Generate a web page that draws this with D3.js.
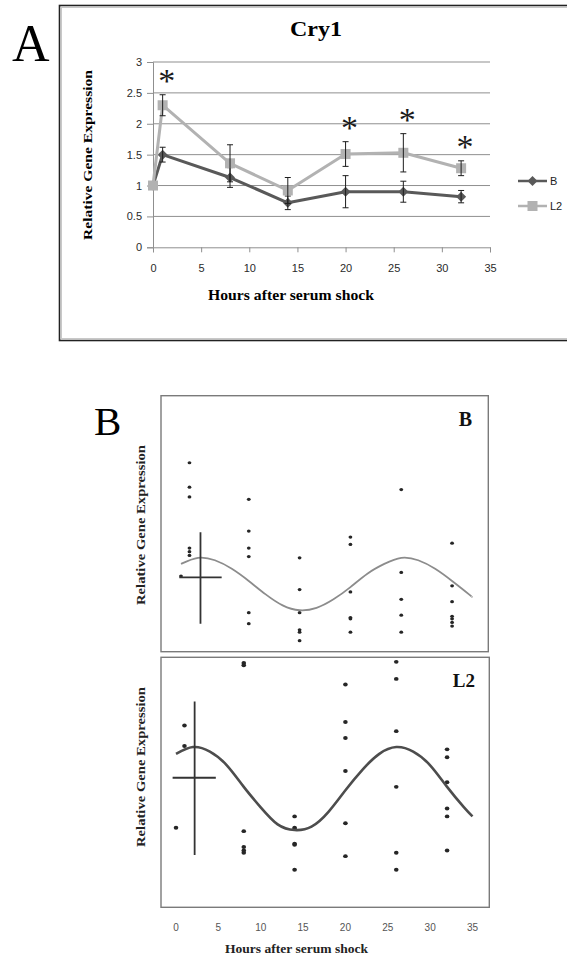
<!DOCTYPE html>
<html>
<head>
<meta charset="utf-8">
<script src="https://cdn.jsdelivr.net/npm/d3@7"></script>
<style>
  body { margin: 0; background: #fff; }
  svg { display: block; }
</style>
</head>
<body>
<svg id="fig" width="567" height="956"></svg>
<script>
// ---------- Panel A: mean Cry1 expression (± SE) after serum shock ----------
const hoursA = [0, 1, 8, 14, 20, 26, 32];
const meanB  = [1.00, 1.50, 1.13, 0.72, 0.90, 0.90, 0.82];
const errB   = [0.00, 0.12, 0.16, 0.11, 0.26, 0.17, 0.10];
const meanL2 = [1.00, 2.30, 1.36, 0.92, 1.51, 1.53, 1.28];
const errL2  = [0.00, 0.17, 0.30, 0.21, 0.20, 0.31, 0.12];
const starHours = [1, 20, 26, 32];          // significant B vs L2 differences
const yTicksA = [0, 0.5, 1, 1.5, 2, 2.5, 3];
const xTicks  = [0, 5, 10, 15, 20, 25, 30, 35];
const seriesNames = ["B", "L2"];

// ---------- Panel B: individual replicates with cosinor fits ----------
const sampleHours = [0, 1, 8, 14, 20, 26, 32];
const replicatesB = [
  [1.02],
  [1.95, 1.75, 1.67, 1.25, 1.22, 1.19],
  [1.65, 1.39, 1.25, 1.18, 0.72, 0.63],
  [1.17, 0.91, 0.72, 0.58, 0.56, 0.49],
  [1.34, 1.28, 0.89, 0.68, 0.67, 0.56],
  [1.73, 1.05, 0.83, 0.70, 0.56],
  [1.29, 0.94, 0.81, 0.69, 0.67, 0.64, 0.61]
];
const replicatesL2 = [
  [1.00],
  [2.51, 1.90, 1.72],
  [2.45, 2.43, 0.97, 0.83, 0.80, 0.78],
  [1.10, 1.00, 0.99, 0.86, 0.85, 0.63],
  [2.26, 1.93, 1.79, 1.50, 1.04, 0.75],
  [2.46, 2.31, 1.85, 1.36, 0.78, 0.63],
  [1.69, 1.62, 1.40, 1.17, 1.10, 0.80]
];
// fitted 24 h cosine curves, read at 2 h steps
const fitHoursB  = [0, 2, 4, 6, 8, 10, 12, 14, 16, 18, 20, 22, 24, 26, 28, 30, 32, 34, 34.3];
const fitB       = [1.12, 1.17, 1.15, 1.08, 0.98, 0.87, 0.78, 0.74, 0.76, 0.83, 0.93, 1.04, 1.12, 1.17, 1.15, 1.08, 0.98, 0.87, 0.85];
const fitHoursL2 = [0, 2, 4, 6, 8, 10, 12, 14, 16, 18, 20, 22, 24, 26, 28, 30, 32, 34, 35];
const fitL2      = [1.65, 1.71, 1.67, 1.55, 1.36, 1.18, 1.03, 0.98, 1.01, 1.14, 1.33, 1.51, 1.65, 1.71, 1.67, 1.55, 1.36, 1.18, 1.10];
// mesor crosses: [hour, hour low, hour high, level, level low, level high]
const crossB  = [2.3, -0.2, 4.8, 1.01, 0.63, 1.38];
const crossL2 = [2.2, -0.4, 4.7, 1.44, 0.76, 2.11];

const SERIF = "'Liberation Serif', 'Times New Roman', serif";
const SANS  = "'Liberation Sans', Arial, sans-serif";
const svg = d3.select("#fig");

// ================= Panel A =================
const gA = svg.append("g");
// frame (double rule)
gA.append("rect").attr("x", 59.5).attr("y", 5.5).attr("width", 520).attr("height", 335)
  .attr("fill", "none").attr("stroke", "#222").attr("stroke-width", 1.6);
gA.append("rect").attr("x", 61.5).attr("y", 7.5).attr("width", 520).attr("height", 331)
  .attr("fill", "none").attr("stroke", "#c8c8c8").attr("stroke-width", 1);

gA.append("text").attr("x", 12).attr("y", 61).attr("font-family", SERIF)
  .attr("font-size", 52).attr("fill", "#000").text("A");

const xA = d3.scaleLinear([0, 35], [153, 490]);
const yA = d3.scaleLinear([0, 3], [247.3, 62]);

gA.append("text").attr("x", 316).attr("y", 36).attr("text-anchor", "middle")
  .attr("font-family", SERIF).attr("font-weight", "bold").attr("font-size", 21)
  .attr("textLength", 52).attr("lengthAdjust", "spacingAndGlyphs").text("Cry1");

// gridlines
gA.append("g").selectAll("line").data(yTicksA.filter(d => d > 0)).join("line")
  .attr("x1", xA(0)).attr("x2", xA(35)).attr("y1", d => yA(d)).attr("y2", d => yA(d))
  .attr("stroke", "#8f8f8f").attr("stroke-width", 1);

const axA_y = gA.append("g").attr("transform", `translate(${xA(0)},0)`)
  .call(d3.axisLeft(yA).tickValues(yTicksA).tickSize(6).tickPadding(5).tickFormat(d3.format("")));
const axA_x = gA.append("g").attr("transform", `translate(0,${yA(0)})`)
  .call(d3.axisBottom(xA).tickValues(xTicks).tickSize(5).tickPadding(12));
[axA_y, axA_x].forEach(ax => {
  ax.select(".domain").attr("stroke", "#8f8f8f");
  ax.selectAll(".tick line").attr("stroke", "#8f8f8f");
  ax.selectAll(".tick text").attr("font-family", SANS).attr("font-size", 11).attr("fill", "#2a2a2a");
});

gA.append("text").attr("transform", `translate(92,155) rotate(-90)`).attr("text-anchor", "middle")
  .attr("font-family", SERIF).attr("font-weight", "bold").attr("font-size", 13.5)
  .attr("textLength", 170).attr("lengthAdjust", "spacingAndGlyphs").text("Relative Gene Expression");
gA.append("text").attr("x", 291).attr("y", 300).attr("text-anchor", "middle")
  .attr("font-family", SERIF).attr("font-weight", "bold").attr("font-size", 15.5)
  .attr("textLength", 166).attr("lengthAdjust", "spacingAndGlyphs")
  .text("Hours after serum shock");

const lineA = d3.line().x(d => xA(d[0])).y(d => yA(d[1]));
const seriesA = [
  { name: seriesNames[0], mean: meanB,  err: errB,  color: "#595959", marker: "diamond" },
  { name: seriesNames[1], mean: meanL2, err: errL2, color: "#b2b2b2", marker: "square" }
];
function marker(g, type, cx, cy, color) {
  if (type === "square") {
    g.append("rect").attr("x", cx - 5).attr("y", cy - 5).attr("width", 10).attr("height", 10).attr("fill", color);
  } else {
    g.append("path").attr("d", `M${cx},${cy - 5}L${cx + 5},${cy}L${cx},${cy + 5}L${cx - 5},${cy}Z`).attr("fill", color);
  }
}
seriesA.forEach(s => {
  const pts = hoursA.map((h, i) => [h, s.mean[i], s.err[i]]);
  const g = gA.append("g");
  g.append("path").datum(pts).attr("d", lineA).attr("fill", "none")
    .attr("stroke", s.color).attr("stroke-width", 3).attr("stroke-linejoin", "round");
  pts.forEach(p => marker(g, s.marker, xA(p[0]), yA(p[1]), s.color));
  pts.filter(p => p[2] > 0).forEach(p => {
    const x = xA(p[0]), y1 = yA(p[1] + p[2]), y2 = yA(p[1] - p[2]);
    g.append("path").attr("d", `M${x},${y1}V${y2}M${x - 3},${y1}H${x + 3}M${x - 3},${y2}H${x + 3}`)
      .attr("stroke", "#1e1e1e").attr("stroke-width", 1).attr("fill", "none");
  });
});

// significance stars above the L2 error bars
starHours.forEach(h => {
  const i = hoursA.indexOf(h);
  const top = yA(meanL2[i] + errL2[i]);
  gA.append("text").attr("x", xA(h) + 4).attr("y", top - 19 + 16).attr("text-anchor", "middle")
    .attr("font-family", SERIF).attr("font-size", 34).attr("fill", "#1a1a1a").text("*");
});

// legend
seriesA.forEach((s, i) => {
  const y = 181 + i * 25;
  gA.append("line").attr("x1", 518).attr("x2", 547).attr("y1", y).attr("y2", y)
    .attr("stroke", s.color).attr("stroke-width", 2.5);
  marker(gA, s.marker, 532.5, y, s.color);
  gA.append("text").attr("x", 550).attr("y", y + 4).attr("font-family", SANS)
    .attr("font-size", 11).attr("fill", "#222").text(s.name);
});

// ================= Panel B =================
const gB = svg.append("g");
gB.append("text").attr("x", 94).attr("y", 435).attr("font-family", SERIF)
  .attr("font-size", 41).attr("fill", "#000").text("B");

const panelsB = [
  { label: "B",  reps: replicatesB,  fitH: fitHoursB,  fit: fitB,  cross: crossB,
    x: d3.scaleLinear([0, 35], [181, 477.5]), y: d3.scaleLinear([0.4, 2.5], [651.7, 395.7]),
    box: [161, 395.7, 488.3, 651.7], r: 1.9, curveColor: "#8c8c8c", curveWidth: 1.8,
    labelY: 425.5, labelX: 472, labelSize: 20, titleY: 525 },
  { label: "L2", reps: replicatesL2, fitH: fitHoursL2, fit: fitL2, cross: crossL2,
    x: d3.scaleLinear([0, 35], [176, 472.5]), y: d3.scaleLinear([0.3, 2.5], [907.3, 657.3]),
    box: [161, 657.3, 489.3, 907.3], r: 2.3, curveColor: "#4d4d4d", curveWidth: 2.6,
    labelY: 687, labelX: 475, labelSize: 19, titleY: 767 }
];

panelsB.forEach((p, k) => {
  const [bx0, by0, bx1, by1] = p.box;
  const g = gB.append("g");
  const clipId = "clipB" + k;
  g.append("clipPath").attr("id", clipId).append("rect")
    .attr("x", bx0).attr("y", by0).attr("width", bx1 - bx0).attr("height", by1 - by0);
  const inner = g.append("g").attr("clip-path", `url(#${clipId})`);

  // replicate points
  const pts = [];
  sampleHours.forEach((h, i) => p.reps[i].forEach(v => pts.push([h, v])));
  inner.selectAll("ellipse").data(pts).join("ellipse")
    .attr("cx", d => p.x(d[0])).attr("cy", d => p.y(d[1]))
    .attr("rx", p.r).attr("ry", p.r * 0.85).attr("fill", "#262626");

  // cosinor fit
  const fitPts = p.fitH.map((h, i) => [h, p.fit[i]]);
  inner.append("path").datum(fitPts)
    .attr("d", d3.line().x(d => p.x(d[0])).y(d => p.y(d[1])).curve(d3.curveNatural))
    .attr("fill", "none").attr("stroke", p.curveColor).attr("stroke-width", p.curveWidth);

  // mesor cross
  const [ch, chLo, chHi, cv, cvLo, cvHi] = p.cross;
  inner.append("path")
    .attr("d", `M${p.x(chLo)},${p.y(cv)}H${p.x(chHi)}M${p.x(ch)},${p.y(cvHi)}V${p.y(cvLo)}`)
    .attr("stroke", "#333").attr("stroke-width", 1.8).attr("fill", "none");

  g.append("rect").attr("x", bx0).attr("y", by0).attr("width", bx1 - bx0).attr("height", by1 - by0)
    .attr("fill", "none").attr("stroke", "#7a7a7a").attr("stroke-width", 1.4);

  g.append("text").attr("x", p.labelX).attr("y", p.labelY).attr("text-anchor", "end")
    .attr("font-family", SERIF).attr("font-weight", "bold").attr("font-size", p.labelSize)
    .attr("fill", "#111").text(p.label);

  g.append("text").attr("transform", `translate(145,${p.titleY}) rotate(-90)`).attr("text-anchor", "middle")
    .attr("font-family", SERIF).attr("font-weight", "bold").attr("font-size", 12.5)
    .attr("textLength", 160).attr("lengthAdjust", "spacingAndGlyphs").attr("fill", "#222")
    .text("Relative Gene Expression");
});

// shared hour axis under the lower panel
const xAxisB = panelsB[1].x;
gB.append("g").selectAll("text").data(xTicks).join("text")
  .attr("x", d => xAxisB(d)).attr("y", 931).attr("text-anchor", "middle")
  .attr("font-family", SANS).attr("font-size", 10).attr("fill", "#555").text(d => d);
gB.append("text").attr("x", 296.5).attr("y", 953).attr("text-anchor", "middle")
  .attr("font-family", SERIF).attr("font-weight", "bold").attr("font-size", 13).attr("fill", "#222")
  .attr("textLength", 143).attr("lengthAdjust", "spacingAndGlyphs")
  .text("Hours after serum shock");
</script>
</body>
</html>
